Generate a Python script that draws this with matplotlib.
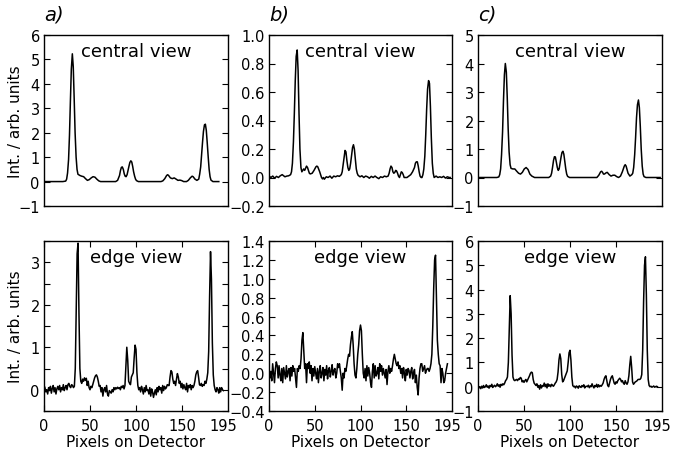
import numpy as np
import matplotlib
matplotlib.use("Agg")
import matplotlib.pyplot as plt
from matplotlib.ticker import FixedLocator

plt.rcParams['font.family'] = ['DejaVu Sans']

# ---------------- data ----------------
# central views (pixel, intensity)
ca_x = [0, 20.5, 23.6, 24.6, 25.6, 26.7, 27.7, 28.7, 29.7, 30.8, 31.8, 32.8, 33.8, 34.9, 35.9, 36.9, 39.0, 41.0, 43.1,
        45.1, 47.2, 49.2, 51.3, 53.3, 55.4, 57.4, 59.5, 61.5,
        77.9, 80.0, 82.1, 83.1, 84.1, 85.1, 86.2, 87.2, 88.2, 89.2, 90.3, 91.3, 92.3, 93.3, 94.4, 95.4, 96.4, 97.4,
        98.5, 99.5, 100.5, 102.6,
        127.2, 129.2, 131.3, 133.3, 134.4, 135.4, 137.4, 139.5, 141.5, 143.6, 145.6, 147.7, 149.7, 151.8, 154.9,
        156.9, 159.0, 161.0, 162.1, 164.1, 166.2, 168.2,
        169.2, 170.3, 171.3, 172.3, 173.3, 174.4, 175.4, 176.4, 177.4, 178.5, 179.5, 180.5, 181.5, 183.6, 190]
ca_y = [0, 0, 0.02, 0.1, 0.35, 0.9, 1.9, 3.3, 4.6, 5.23, 4.7, 3.4, 2.0, 1.0, 0.5, 0.3, 0.25, 0.22, 0.2,
        0.12, 0.05, 0.08, 0.15, 0.2, 0.18, 0.1, 0.03, 0.0,
        0.0, 0.05, 0.25, 0.45, 0.58, 0.6, 0.5, 0.32, 0.22, 0.2, 0.28, 0.45, 0.62, 0.78, 0.85, 0.8, 0.62, 0.4,
        0.22, 0.1, 0.04, 0.0,
        0.0, 0.03, 0.12, 0.25, 0.28, 0.25, 0.15, 0.12, 0.15, 0.1, 0.05, 0.06, 0.04, 0.0, 0.0,
        0.05, 0.15, 0.22, 0.2, 0.1, 0.05, 0.1,
        0.3, 0.6, 1.1, 1.6, 2.05, 2.32, 2.35, 2.1, 1.6, 1.0, 0.5, 0.2, 0.06, 0.0, 0.0]

cb_x = [0, 2.1, 4.1, 6.2, 8.2, 10.3, 12.3, 14.4, 15.4, 17.4, 19.5, 21.5, 23.6, 24.6, 25.6, 26.7, 27.7, 28.7, 29.7,
        30.8, 31.8, 32.8, 33.8, 34.9, 35.9, 36.9, 37.9, 39.0, 41.0, 42.1, 43.1, 44.1, 45.1, 47.2, 49.2, 51.3, 52.3,
        53.3, 55.4, 56.4, 57.4, 58.5, 59.5, 60.5, 62.6, 64.6, 66.7, 68.7, 70.8, 72.8, 74.9, 76.9, 79.0, 80.0, 81.0,
        82.1, 83.1, 84.1, 85.1, 86.2, 87.2, 88.2, 89.2, 90.3, 91.3, 92.3, 93.3, 94.4, 95.4, 96.4, 97.4, 99.5, 101.5,
        103.6, 105.6, 107.7, 109.7, 111.8, 113.8, 115.9, 117.9, 120.0, 122.0, 124.1, 126.2, 128.2, 130.2, 131.3,
        132.3, 133.3, 134.4, 135.4, 136.4, 137.4, 138.5, 139.5, 140.5, 141.5, 142.6, 143.6, 144.6, 145.6, 146.7,
        147.7, 148.7, 150.8, 152.8, 154.9, 156.9, 159.0, 160.0, 161.0, 162.1, 163.1, 164.1, 165.1, 166.2, 167.2,
        168.2, 169.2, 170.3, 171.3, 172.3, 173.3, 174.4, 175.4, 176.4, 177.4, 178.5, 179.5, 180.5, 182.6, 184.6,
        186.7, 188.7, 190.8, 192.8, 194.9, 196.9, 198]
cb_y = [0.01, 0.0, 0.01, -0.005, 0.008, 0.0, 0.012, 0.02, 0.015, 0.005, 0.01, 0.012, 0.02, 0.04, 0.1, 0.25, 0.45, 0.68, 0.85,
        0.895, 0.75, 0.45, 0.2, 0.07, 0.04, 0.05, 0.06, 0.05, 0.08, 0.07, 0.05, 0.03, 0.025, 0.03, 0.05, 0.075, 0.08,
        0.075, 0.04, 0.02, 0.0, -0.01, 0.0, -0.012, 0.005, 0.0, 0.01, -0.005, 0.01, 0.005, 0.012, 0.008, 0.02, 0.04, 0.09,
        0.15, 0.19, 0.18, 0.12, 0.07, 0.05, 0.06, 0.1, 0.16, 0.21, 0.23, 0.2, 0.13, 0.06, 0.03, 0.015, 0.005, 0.012,
        0.0, 0.01, 0.005, -0.005, 0.008, 0.0, 0.01, 0.0, -0.008, 0.005, 0.0, 0.01, 0.005, 0.01, 0.03,
        0.06, 0.08, 0.07, 0.04, 0.03, 0.035, 0.05, 0.045, 0.03, 0.01, 0.0, 0.02, 0.04, 0.035, 0.02,
        0.0, 0.0, 0.0, 0.01, 0.02, 0.04, 0.07, 0.1, 0.11, 0.11, 0.08, 0.04, 0.01, 0.0, 0.0,
        0.02, 0.06, 0.15, 0.3, 0.48, 0.62, 0.68, 0.66, 0.5, 0.28, 0.1, 0.03, 0.0, 0.01, 0.0,
        0.005, 0.0, 0.008, -0.004, 0.005, 0.0, 0.0]

cc_x = [0, 20.5, 22.6, 23.6, 24.6, 25.6, 26.7, 27.7, 28.7, 29.7, 30.8, 31.8, 32.8, 33.8, 34.9, 35.9, 37.9, 40.0, 42.1,
        44.1, 46.2, 48.2, 50.3, 52.3, 54.4, 56.4, 58.5, 61.5,
        76.9, 79.0, 80.0, 81.0, 82.1, 83.1, 84.1, 85.1, 86.2, 87.2, 88.2, 89.2, 90.3, 91.3, 92.3, 93.3, 94.4, 95.4,
        96.4, 97.4, 99.5,
        129.2, 131.3, 133.3, 134.4, 135.4, 136.4, 137.4, 139.5, 140.5, 142.6, 144.6, 146.7, 148.7, 150.8, 152.8,
        154.9, 156.9, 159.0, 160.0, 161.0, 163.1, 165.1, 167.2,
        168.2, 169.2, 170.3, 171.3, 172.3, 173.3, 174.4, 175.4, 176.4, 177.4, 178.5, 179.5, 180.5, 182.6, 198]
cc_y = [0, 0, 0.02, 0.1, 0.3, 0.8, 1.6, 2.7, 3.6, 4.0, 3.7, 2.8, 1.7, 0.9, 0.45, 0.32, 0.3, 0.3, 0.22,
        0.15, 0.12, 0.18, 0.3, 0.35, 0.28, 0.12, 0.05, 0.0,
        0.0, 0.05, 0.15, 0.35, 0.6, 0.73, 0.72, 0.55, 0.35, 0.25, 0.3, 0.5, 0.72, 0.88, 0.92, 0.82, 0.55, 0.3,
        0.12, 0.04, 0.0,
        0.0, 0.08, 0.2, 0.22, 0.18, 0.12, 0.12, 0.17, 0.18, 0.1, 0.05, 0.08, 0.08, 0.03, 0.0,
        0.05, 0.2, 0.4, 0.45, 0.4, 0.15, 0.05, 0.1,
        0.15, 0.35, 0.8, 1.4, 2.1, 2.55, 2.72, 2.45, 1.8, 1.0, 0.4, 0.12, 0.03, 0.0, 0.0]

# edge views, one value per detector pixel 0..195
ea = [0.10, 0.05, -0.05, 0.00, -0.10, 0.05, -0.02, 0.08, -0.08, 0.03,
      0.10, -0.05, 0.05, -0.10, 0.02, 0.08, 0.00, 0.10, -0.05, 0.05,
      0.00, 0.12, -0.02, 0.05, 0.10, 0.00, 0.12, 0.15, 0.08, 0.05,
      0.12, 0.10, 0.05, 0.08, 0.50, 1.80, 3.20, 3.45, 1.80, 0.50,
      0.20, 0.15, 0.25, 0.20, 0.28, 0.22, 0.27, 0.10, 0.20, 0.05,
      0.00, 0.08, 0.05, 0.12, 0.20, 0.28, 0.33, 0.35, 0.30, 0.20,
      0.08, 0.10, -0.05, 0.05, -0.15, 0.00, 0.05, -0.05, 0.10, -0.10,
      -0.15, -0.02, -0.05, -0.08, 0.00, -0.05, 0.05, 0.00, 0.05, 0.02,
      0.06, 0.03, 0.05, 0.00, 0.08, 0.05, 0.10, 0.02, 0.10, 0.55,
      1.00, 0.70, 0.20, 0.15, 0.12, 0.30, 0.35, 0.40, 0.75, 1.05,
      0.95, 0.40, 0.10, 0.00, 0.05, -0.05, 0.08, 0.00, -0.10, 0.05,
      -0.05, 0.10, -0.02, 0.00, -0.10, 0.05, -0.15, 0.02, -0.05, -0.18,
      -0.08, 0.00, -0.12, 0.05, -0.05, 0.08, 0.00, 0.05, -0.08, 0.10,
      -0.02, 0.08, 0.02, 0.05, 0.12, 0.10, 0.10, 0.30, 0.45, 0.42,
      0.25, 0.15, 0.20, 0.10, 0.25, 0.38, 0.30, 0.15, 0.20, 0.05,
      0.15, 0.02, 0.12, 0.05, 0.00, 0.15, -0.05, 0.10, 0.05, 0.12,
      0.00, 0.10, 0.05, 0.10, 0.20, 0.35, 0.42, 0.45, 0.30, 0.12,
      0.10, 0.15, 0.08, 0.12, 0.10, 0.20, 0.15, 0.25, 0.40, 0.90,
      2.20, 3.25, 2.60, 1.10, 0.35, 0.10, 0.00, -0.05, 0.05, 0.00,
      -0.08, 0.05, -0.05, 0.05, 0.00, -0.02]

eb = [0.05, -0.05, 0.02, -0.08, 0.10, 0.00, -0.10, 0.05, 0.12, 0.08,
      -0.05, 0.08, -0.02, -0.08, 0.05, -0.10, 0.06, 0.00, -0.06, 0.08,
      -0.04, 0.02, 0.05, -0.08, 0.06, -0.03, 0.08, 0.02, 0.05, -0.05,
      -0.15, 0.05, 0.02, 0.08, 0.05, 0.15, 0.35, 0.43, 0.25, 0.05,
      0.10, -0.10, 0.10, 0.05, 0.12, 0.00, 0.08, -0.08, 0.05, -0.03,
      0.07, 0.00, -0.06, 0.05, -0.10, 0.02, 0.08, -0.05, 0.00, 0.06,
      -0.08, 0.04, -0.02, 0.08, -0.06, 0.03, 0.06, -0.04, 0.02, 0.09,
      -0.02, 0.03, 0.05, -0.05, 0.00, 0.10, 0.06, 0.10, 0.02, -0.05,
      -0.18, 0.00, -0.05, 0.05, 0.02, 0.08, 0.15, 0.20, 0.18, 0.30,
      0.38, 0.44, 0.30, 0.10, -0.02, -0.05, 0.05, 0.20, 0.30, 0.45,
      0.51, 0.45, 0.20, 0.00, -0.05, 0.05, -0.08, 0.08, -0.03, 0.06,
      0.00, -0.10, -0.15, 0.02, 0.10, -0.05, 0.08, -0.03, 0.00, 0.06,
      -0.06, 0.10, 0.02, 0.08, -0.02, 0.05, 0.00, -0.05, 0.04, -0.12,
      0.02, 0.08, 0.00, 0.05, 0.02, 0.08, 0.15, 0.20, 0.15, 0.10,
      0.08, 0.12, 0.05, 0.08, 0.00, 0.05, -0.05, 0.06, 0.00, -0.08,
      0.04, -0.02, 0.05, 0.03, -0.05, 0.02, 0.06, -0.06, 0.00, 0.04,
      -0.10, -0.02, -0.15, -0.23, -0.05, 0.05, 0.10, 0.10, 0.02, 0.05,
      0.08, 0.00, 0.03, 0.05, 0.05, 0.02, 0.05, 0.10, 0.20, 0.50,
      0.90, 1.20, 1.25, 0.80, 0.35, 0.20, 0.10, 0.08, -0.10, 0.05,
      0.00, -0.10, -0.08, 0.00, 0.05, 0.10]

ec = [0.05, -0.05, 0.00, -0.08, 0.02, -0.05, 0.05, -0.03, 0.00, 0.08,
      -0.02, 0.03, -0.06, 0.05, 0.00, 0.10, -0.03, 0.02, 0.06, 0.00,
      0.04, 0.12, 0.02, 0.08, -0.02, 0.10, 0.05, 0.12, 0.08, 0.15,
      0.25, 0.30, 0.40, 1.00, 2.30, 3.75, 3.00, 1.30, 0.40, 0.28,
      0.25, 0.28, 0.30, 0.25, 0.32, 0.30, 0.38, 0.35, 0.20, 0.25,
      0.18, 0.25, 0.30, 0.20, 0.28, 0.35, 0.45, 0.55, 0.60, 0.58,
      0.30, 0.15, 0.10, 0.05, 0.12, -0.02, 0.05, -0.10, 0.08, -0.05,
      0.05, 0.02, 0.15, 0.00, 0.10, -0.05, 0.12, 0.02, 0.08, 0.00,
      0.10, 0.05, 0.02, 0.08, 0.15, 0.20, 0.30, 0.60, 1.10, 1.35,
      1.15, 0.50, 0.20, 0.25, 0.35, 0.45, 0.55, 0.65, 1.00, 1.40,
      1.50, 1.10, 0.40, 0.05, 0.00, 0.02, -0.05, 0.03, 0.00, -0.06,
      0.04, 0.00, -0.03, 0.05, 0.00, 0.08, -0.05, 0.01, 0.02, 0.00,
      0.06, -0.04, 0.03, 0.00, 0.12, 0.02, -0.05, 0.05, 0.00, 0.10,
      -0.02, 0.08, 0.00, 0.05, 0.02, 0.08, 0.15, 0.30, 0.40, 0.45,
      0.25, 0.05, 0.00, 0.15, 0.30, 0.40, 0.45, 0.30, 0.15, 0.10,
      0.20, 0.15, 0.25, 0.30, 0.35, 0.30, 0.20, 0.25, 0.15, 0.10,
      0.25, 0.15, 0.10, 0.20, 0.45, 0.90, 1.25, 0.80, 0.20, 0.10,
      0.15, 0.20, 0.22, 0.25, 0.30, 0.30, 0.30, 0.35, 0.50, 1.50,
      3.50, 5.00, 5.35, 3.80, 1.50, 0.30, 0.05, 0.00, 0.02, -0.02,
      0.00, 0.03, -0.02, 0.00, 0.02, 0.00]

x_ticks = [0, 50, 100, 150, 195]
panel_labels = ["a)", "b)", "c)"]
top_ylims = [(-1, 6), (-0.2, 1.0), (-1, 5)]
top_yticks = [[-1, 0, 1, 2, 3, 4, 5, 6],
              [-0.2, 0.0, 0.2, 0.4, 0.6, 0.8, 1.0],
              [-1, 0, 1, 2, 3, 4, 5]]
bot_ylims = [(-0.5, 3.5), (-0.4, 1.4), (-1, 6)]
bot_yticks = [[0, 1, 2, 3],
              [-0.4, -0.2, 0.0, 0.2, 0.4, 0.6, 0.8, 1.0, 1.2, 1.4],
              [-1, 0, 1, 2, 3, 4, 5, 6]]
tick_fmt = ["{:.0f}", "{:.1f}", "{:.0f}"]

# ---------------- figure ----------------
W, H = 673, 452
fig = plt.figure(figsize=(W / 100, H / 100), dpi=100)

lefts = [44, 269, 478]
widths = [184, 183, 184]
top_row = (36, 207)
bot_row = (242, 412)


def make_ax(i, row):
    t, b = row
    return fig.add_axes([lefts[i] / W, 1 - b / H, widths[i] / W, (b - t) / H])


def fmt_label(v, f):
    return f.format(v).replace("-", "\u2212")


central = [(ca_x, ca_y), (cb_x, cb_y), (cc_x, cc_y)]
edge = [ea, eb, ec]
LW = 1.1

for i in range(3):
    # top row
    ax = make_ax(i, top_row)
    ax.plot(central[i][0], central[i][1], color='black', lw=LW)
    ax.set_xlim(0, 200)
    ax.set_ylim(*top_ylims[i])
    ax.set_yticks(top_yticks[i])
    ax.set_yticklabels([fmt_label(v, tick_fmt[i]) for v in top_yticks[i]])
    ax.set_xticks([])
    ax.tick_params(axis='y', direction='in', length=4, width=0.8, left=True, right=True,
                   labelsize=10.5, pad=3)
    ax.text(0.5, 0.905, "central view", transform=ax.transAxes, ha='center', va='center',
            fontsize=13)
    ax.text(0.0, 1.12, panel_labels[i], transform=ax.transAxes, ha='left', va='center',
            fontsize=14, style='italic')
    if i == 0:
        ax.set_ylabel("Int. / arb. units", fontsize=11)
        ax.yaxis.set_label_coords(-0.115, 0.5)
    for s in ax.spines.values():
        s.set_linewidth(1.0)

    # bottom row
    ax = make_ax(i, bot_row)
    ax.plot(np.arange(len(edge[i])), edge[i], color='black', lw=LW)
    ax.set_xlim(0, 200)
    ax.set_ylim(*bot_ylims[i])
    ax.set_yticks(bot_yticks[i])
    ax.set_yticklabels([fmt_label(v, tick_fmt[i]) for v in bot_yticks[i]])
    if i == 0:
        ax.yaxis.set_minor_locator(FixedLocator([-0.5, 0.5, 1.5, 2.5, 3.5]))
    ax.set_xticks(x_ticks)
    ax.set_xticklabels([str(v) for v in x_ticks])
    ax.tick_params(axis='y', which='both', direction='in', length=4, width=0.8, left=True, right=True,
                   labelsize=10.5, pad=3)
    ax.tick_params(axis='x', direction='in', length=4, width=0.8, top=True, bottom=True,
                   labelsize=10.5, pad=5)
    last = ax.xaxis.get_major_ticks()[-1]
    last.tick1line.set_visible(False)
    last.tick2line.set_visible(False)
    ax.text(0.5, 0.904, "edge view", transform=ax.transAxes, ha='center', va='center',
            fontsize=13)
    ax.set_xlabel("Pixels on Detector", fontsize=11, labelpad=1)
    if i == 0:
        ax.set_ylabel("Int. / arb. units", fontsize=11)
        ax.yaxis.set_label_coords(-0.115, 0.5)
    for s in ax.spines.values():
        s.set_linewidth(1.0)

fig.savefig("out.png", dpi=100)
